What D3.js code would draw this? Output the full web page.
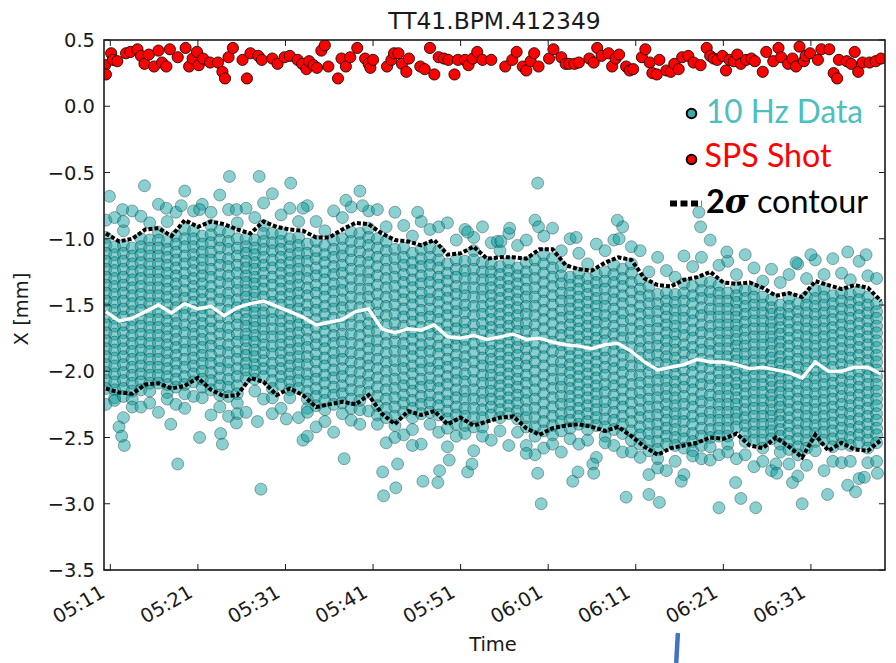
<!DOCTYPE html>
<html><head><meta charset="utf-8">
<script src="https://cdn.jsdelivr.net/npm/d3@7"></script>
<style>body{margin:0;background:#fff}svg{display:block}</style>
</head><body>
<svg id="c" width="896" height="663"></svg>
<script>
// ---------------- DATA ----------------
const chartTitle = "TT41.BPM.412349";
const xTickLabels = ["05:11","05:21","05:31","05:41","05:51","06:01","06:11","06:21","06:31"];
const yTicks = [0.5,0.0,-0.5,-1.0,-1.5,-2.0,-2.5,-3.0,-3.5];
// all times are minutes after 05:11
const spsTime = [-0.6,-0.5,0.1,0.3,0.8,1.8,2.3,3.1,3.5,3.9,4.4,5.0,5.5,5.9,6.4,6.8,7.7,8.6,9.0,9.4,9.9,10.1,10.6,11.4,12.3,12.8,13.1,13.5,14.0,15.1,15.6,16.0,16.9,17.3,18.5,19.1,19.9,20.5,
21.4,21.9,22.4,22.7,23.2,23.6,24.1,24.5,24.9,26.0,26.4,26.9,27.4,28.2,29.1,29.5,29.7,30.0,31.6,32.1,32.4,32.9,33.3,33.8,34.1,35.4,35.9,36.5,37.0,37.5,38.1,38.6,39.3,39.7,40.5,40.9,41.4,41.9,42.5,43.5,
45.1,45.9,46.4,47.1,47.5,48.0,48.4,48.9,50.1,50.6,51.5,52.0,52.4,53.0,53.5,54.7,55.2,55.6,56.1,56.9,57.3,57.7,58.1,58.9,59.3,59.7,60.7,61.1,61.6,61.9,62.4,62.7,63.5,64.0,64.4,64.9,65.3,66.0,
66.6,67.4,68.1,68.5,68.9,69.3,69.9,70.3,70.7,71.2,71.6,72.0,72.6,73.2,73.6,74.5,74.9,75.7,76.3,76.6,77.4,77.9,78.3,78.7,79.2,79.4,79.9,80.8,81.2,82.1,82.6,83.0,83.2,84.1,84.6,85.0,85.4,85.9,86.7,87.4,88.0];
const spsX = [0.31,0.24,0.40,0.35,0.34,0.40,0.41,0.43,0.38,0.32,0.39,0.30,0.42,0.33,0.30,0.43,0.37,0.44,0.30,0.36,0.41,0.31,0.36,0.33,0.33,0.26,0.21,0.37,0.44,0.35,0.21,0.40,0.38,0.35,0.36,0.32,0.37,0.38,
0.35,0.32,0.28,0.34,0.31,0.29,0.42,0.46,0.30,0.21,0.36,0.30,0.37,0.44,0.36,0.32,0.29,0.35,0.30,0.35,0.40,0.40,0.32,0.26,0.36,0.30,0.28,0.44,0.24,0.37,0.36,0.35,0.24,0.35,0.35,0.31,0.36,0.41,0.35,0.35,
0.30,0.35,0.41,0.30,0.27,0.34,0.40,0.30,0.36,0.43,0.37,0.32,0.32,0.32,0.33,0.36,0.33,0.44,0.38,0.40,0.30,0.36,0.39,0.30,0.27,0.28,0.37,0.43,0.33,0.25,0.24,0.35,0.27,0.26,0.32,0.28,0.37,0.38,
0.33,0.31,0.44,0.38,0.36,0.35,0.38,0.27,0.35,0.34,0.39,0.32,0.35,0.36,0.34,0.26,0.41,0.34,0.44,0.37,0.32,0.36,0.30,0.45,0.34,0.38,0.40,0.35,0.43,0.43,0.25,0.21,0.35,0.34,0.32,0.41,0.26,0.33,0.33,0.34,0.36];

const lineTime = [-0.5,1,2.5,4,5.5,7,8.5,10,11.5,13,14.5,16,17.5,19,20.5,22,23.5,25,26.5,28,29.5,31,32.5,34,35.5,37,38.5,40,41.5,43,44.5,46,47.5,49,50.5,52,53.5,55,56.5,58,59.5,61,62.5,64,65.5,67,68.5,70,71.5,73,74.5,76,77.5,79,80.5,82,83.5,85,86.5,88];
const meanX = [-1.55,-1.62,-1.60,-1.55,-1.50,-1.56,-1.49,-1.53,-1.51,-1.58,-1.52,-1.49,-1.47,-1.51,-1.55,-1.59,-1.65,-1.63,-1.61,-1.55,-1.53,-1.68,-1.71,-1.68,-1.69,-1.65,-1.74,-1.75,-1.73,-1.76,-1.74,-1.72,-1.76,-1.75,-1.78,-1.80,-1.81,-1.83,-1.80,-1.79,-1.85,-1.93,-1.99,-1.97,-1.95,-1.91,-1.93,-1.93,-1.95,-1.98,-1.97,-1.99,-2.01,-2.05,-1.93,-2.00,-2.00,-1.97,-1.97,-2.02];
const upperX = [-0.96,-1.02,-1.00,-0.93,-0.92,-0.98,-0.86,-0.91,-0.87,-0.89,-0.93,-0.96,-0.87,-0.91,-0.93,-0.94,-0.99,-0.99,-0.93,-0.88,-0.89,-0.96,-1.01,-1.02,-1.05,-1.01,-1.12,-1.11,-1.06,-1.15,-1.14,-1.14,-1.15,-1.08,-1.08,-1.20,-1.23,-1.24,-1.18,-1.14,-1.16,-1.30,-1.35,-1.36,-1.31,-1.29,-1.25,-1.33,-1.34,-1.33,-1.37,-1.43,-1.41,-1.44,-1.32,-1.35,-1.38,-1.35,-1.37,-1.47];
const lowerX = [-2.13,-2.16,-2.17,-2.10,-2.09,-2.13,-2.11,-2.05,-2.14,-2.19,-2.18,-2.05,-2.08,-2.18,-2.13,-2.18,-2.27,-2.25,-2.23,-2.25,-2.18,-2.32,-2.40,-2.30,-2.33,-2.30,-2.40,-2.35,-2.41,-2.38,-2.35,-2.34,-2.43,-2.48,-2.43,-2.41,-2.40,-2.42,-2.45,-2.42,-2.49,-2.57,-2.63,-2.58,-2.56,-2.54,-2.50,-2.51,-2.47,-2.56,-2.58,-2.50,-2.57,-2.65,-2.48,-2.60,-2.54,-2.59,-2.60,-2.52];

// 10 Hz bursts: one column of readings per minute
const hz10Time = [-0.5,0.5,1.5,2.5,3.5,4.5,5.5,6.5,7.5,8.5,9.5,10.5,11.5,12.5,13.5,14.5,15.5,16.5,17.5,18.5,19.5,20.5,21.5,22.5,23.5,24.5,25.5,26.5,27.5,28.5,29.5,30.5,31.5,32.5,33.5,34.5,35.5,36.5,37.5,38.5,39.5,40.5,41.5,42.5,43.5,44.5,45.5,46.5,47.5,48.5,49.5,50.5,51.5,52.5,53.5,54.5,55.5,56.5,57.5,58.5,59.5,60.5,61.5,62.5,63.5,64.5,65.5,66.5,67.5,68.5,69.5,70.5,71.5,72.5,73.5,74.5,75.5,76.5,77.5,78.5,79.5,80.5,81.5,82.5,83.5,84.5,85.5,86.5,87.5];
const hz10X = [
[-0.86,-0.99,-1.05,-1.11,-1.17,-1.23,-1.29,-1.35,-1.41,-1.47,-1.53,-1.59,-1.65,-1.71,-1.77,-1.83,-1.89,-1.95,-2.01,-2.07,-2.13,-2.25],
[-0.84,-1.06,-1.12,-1.18,-1.24,-1.30,-1.36,-1.42,-1.48,-1.54,-1.60,-1.66,-1.72,-1.78,-1.84,-1.90,-1.96,-2.02,-2.08,-2.14,-2.20,-2.22],
[-0.94,-1.05,-1.11,-1.17,-1.23,-1.29,-1.35,-1.41,-1.47,-1.53,-1.59,-1.65,-1.71,-1.77,-1.83,-1.89,-1.95,-2.01,-2.07,-2.13,-2.19,-2.35],
[-0.79,-1.07,-1.13,-1.19,-1.25,-1.31,-1.37,-1.43,-1.49,-1.55,-1.61,-1.67,-1.73,-1.79,-1.85,-1.91,-1.97,-2.03,-2.09,-2.15,-2.21,-2.27],
[-0.83,-1.00,-1.06,-1.12,-1.18,-1.24,-1.30,-1.36,-1.42,-1.48,-1.54,-1.60,-1.66,-1.72,-1.78,-1.84,-1.90,-1.96,-2.02,-2.08,-2.14,-2.27],
[-0.88,-1.01,-1.07,-1.13,-1.19,-1.25,-1.31,-1.37,-1.43,-1.49,-1.55,-1.61,-1.67,-1.73,-1.79,-1.85,-1.91,-1.97,-2.03,-2.09,-2.15,-2.24],
[-0.74,-0.95,-1.01,-1.07,-1.13,-1.19,-1.25,-1.31,-1.37,-1.43,-1.49,-1.55,-1.61,-1.67,-1.73,-1.79,-1.85,-1.91,-1.97,-2.03,-2.09,-2.31],
[-0.87,-1.02,-1.08,-1.14,-1.20,-1.26,-1.32,-1.38,-1.44,-1.50,-1.56,-1.62,-1.68,-1.74,-1.80,-1.86,-1.92,-1.98,-2.04,-2.10,-2.16,-2.21],
[-0.80,-0.98,-1.04,-1.10,-1.16,-1.22,-1.28,-1.34,-1.40,-1.46,-1.52,-1.58,-1.64,-1.70,-1.76,-1.82,-1.88,-1.94,-2.00,-2.06,-2.12,-2.25],
[-0.64,-0.93,-1.00,-1.06,-1.13,-1.19,-1.26,-1.32,-1.39,-1.45,-1.52,-1.58,-1.65,-1.71,-1.78,-1.84,-1.91,-1.97,-2.04,-2.10,-2.17,-2.28],
[-0.79,-0.94,-1.00,-1.06,-1.12,-1.18,-1.24,-1.30,-1.36,-1.42,-1.48,-1.54,-1.60,-1.66,-1.72,-1.78,-1.84,-1.90,-1.96,-2.02,-2.08,-2.19],
[-0.74,-0.98,-1.04,-1.10,-1.16,-1.22,-1.28,-1.34,-1.40,-1.46,-1.52,-1.58,-1.64,-1.70,-1.76,-1.82,-1.88,-1.94,-2.00,-2.06,-2.12,-2.20],
[-0.80,-0.90,-0.97,-1.03,-1.10,-1.16,-1.23,-1.29,-1.36,-1.42,-1.49,-1.55,-1.62,-1.68,-1.75,-1.81,-1.88,-1.94,-2.01,-2.07,-2.14,-2.33],
[-0.67,-0.94,-1.01,-1.07,-1.14,-1.20,-1.27,-1.33,-1.40,-1.46,-1.53,-1.59,-1.66,-1.72,-1.79,-1.85,-1.92,-1.98,-2.05,-2.11,-2.18,-2.27],
[-0.78,-0.95,-1.02,-1.08,-1.15,-1.21,-1.28,-1.34,-1.41,-1.47,-1.54,-1.60,-1.67,-1.73,-1.80,-1.86,-1.93,-1.99,-2.06,-2.12,-2.19,-2.34],
[-0.88,-1.00,-1.07,-1.13,-1.20,-1.26,-1.33,-1.39,-1.46,-1.52,-1.59,-1.65,-1.72,-1.78,-1.85,-1.91,-1.98,-2.04,-2.11,-2.17,-2.24,-2.32],
[-0.77,-1.00,-1.06,-1.11,-1.17,-1.22,-1.28,-1.33,-1.39,-1.44,-1.50,-1.55,-1.61,-1.66,-1.72,-1.77,-1.83,-1.88,-1.94,-1.99,-2.05,-2.31],
[-0.84,-1.01,-1.07,-1.12,-1.18,-1.23,-1.29,-1.34,-1.40,-1.45,-1.51,-1.56,-1.62,-1.67,-1.73,-1.78,-1.84,-1.89,-1.95,-2.00,-2.06,-2.15],
[-0.73,-0.90,-0.96,-1.02,-1.08,-1.14,-1.20,-1.26,-1.32,-1.38,-1.44,-1.50,-1.56,-1.62,-1.68,-1.74,-1.80,-1.86,-1.92,-1.98,-2.04,-2.21],
[-0.66,-0.96,-1.03,-1.09,-1.16,-1.22,-1.29,-1.35,-1.42,-1.48,-1.55,-1.61,-1.68,-1.74,-1.81,-1.87,-1.94,-2.00,-2.07,-2.13,-2.20,-2.32],
[-0.82,-0.96,-1.02,-1.08,-1.14,-1.20,-1.26,-1.32,-1.38,-1.44,-1.50,-1.56,-1.62,-1.68,-1.74,-1.80,-1.86,-1.92,-1.98,-2.04,-2.10,-2.28],
[-0.77,-1.00,-1.06,-1.12,-1.18,-1.24,-1.30,-1.36,-1.42,-1.48,-1.54,-1.60,-1.66,-1.72,-1.78,-1.84,-1.90,-1.96,-2.02,-2.08,-2.14,-2.20],
[-0.87,-0.99,-1.05,-1.11,-1.17,-1.23,-1.29,-1.35,-1.41,-1.47,-1.53,-1.59,-1.65,-1.71,-1.77,-1.83,-1.89,-1.95,-2.01,-2.07,-2.13,-2.35],
[-0.75,-1.04,-1.11,-1.17,-1.24,-1.30,-1.37,-1.43,-1.50,-1.56,-1.63,-1.69,-1.76,-1.82,-1.89,-1.95,-2.02,-2.08,-2.15,-2.21,-2.28,-2.31],
[-0.87,-1.02,-1.09,-1.15,-1.22,-1.28,-1.35,-1.41,-1.48,-1.54,-1.61,-1.67,-1.74,-1.80,-1.87,-1.93,-2.00,-2.06,-2.13,-2.19,-2.26,-2.42],
[-0.94,-1.05,-1.12,-1.18,-1.25,-1.31,-1.38,-1.44,-1.51,-1.57,-1.64,-1.70,-1.77,-1.83,-1.90,-1.96,-2.03,-2.09,-2.16,-2.22,-2.29,-2.38],
[-0.79,-1.01,-1.08,-1.14,-1.21,-1.27,-1.34,-1.40,-1.47,-1.53,-1.60,-1.66,-1.73,-1.79,-1.86,-1.92,-1.99,-2.05,-2.12,-2.18,-2.25,-2.46],
[-0.84,-1.00,-1.07,-1.13,-1.20,-1.26,-1.33,-1.39,-1.46,-1.52,-1.59,-1.65,-1.72,-1.78,-1.85,-1.91,-1.98,-2.04,-2.11,-2.17,-2.24,-2.32],
[-0.76,-0.95,-1.02,-1.09,-1.16,-1.23,-1.30,-1.37,-1.44,-1.51,-1.58,-1.65,-1.72,-1.79,-1.86,-1.93,-2.00,-2.07,-2.14,-2.21,-2.28,-2.37],
[-0.64,-0.96,-1.03,-1.10,-1.17,-1.24,-1.31,-1.38,-1.45,-1.52,-1.59,-1.66,-1.73,-1.80,-1.87,-1.94,-2.01,-2.08,-2.15,-2.22,-2.29,-2.40],
[-0.79,-0.92,-0.99,-1.05,-1.12,-1.18,-1.25,-1.31,-1.38,-1.44,-1.51,-1.57,-1.64,-1.70,-1.77,-1.83,-1.90,-1.96,-2.03,-2.09,-2.16,-2.30],
[-0.78,-1.00,-1.07,-1.14,-1.21,-1.28,-1.35,-1.42,-1.49,-1.56,-1.63,-1.70,-1.77,-1.84,-1.91,-1.98,-2.05,-2.12,-2.19,-2.26,-2.33,-2.40],
[-0.91,-1.02,-1.09,-1.16,-1.23,-1.30,-1.37,-1.44,-1.51,-1.58,-1.65,-1.72,-1.79,-1.86,-1.93,-2.00,-2.07,-2.14,-2.21,-2.28,-2.35,-2.54],
[-0.80,-1.08,-1.15,-1.22,-1.29,-1.36,-1.43,-1.50,-1.57,-1.64,-1.71,-1.78,-1.85,-1.92,-1.99,-2.06,-2.13,-2.20,-2.27,-2.34,-2.41,-2.50],
[-0.90,-1.07,-1.14,-1.20,-1.27,-1.33,-1.40,-1.46,-1.53,-1.59,-1.66,-1.72,-1.79,-1.85,-1.92,-1.98,-2.05,-2.11,-2.18,-2.24,-2.31,-2.48],
[-0.98,-1.11,-1.18,-1.24,-1.31,-1.37,-1.44,-1.50,-1.57,-1.63,-1.70,-1.76,-1.83,-1.89,-1.96,-2.02,-2.09,-2.15,-2.22,-2.28,-2.35,-2.44],
[-0.87,-1.08,-1.15,-1.21,-1.28,-1.34,-1.41,-1.47,-1.54,-1.60,-1.67,-1.73,-1.80,-1.86,-1.93,-1.99,-2.06,-2.12,-2.19,-2.25,-2.32,-2.55],
[-0.93,-1.07,-1.14,-1.20,-1.27,-1.33,-1.40,-1.46,-1.53,-1.59,-1.66,-1.72,-1.79,-1.85,-1.92,-1.98,-2.05,-2.11,-2.18,-2.24,-2.31,-2.40],
[-0.91,-1.09,-1.16,-1.22,-1.29,-1.35,-1.42,-1.48,-1.55,-1.61,-1.68,-1.74,-1.81,-1.87,-1.94,-2.00,-2.07,-2.13,-2.20,-2.26,-2.33,-2.46],
[-0.88,-1.19,-1.26,-1.32,-1.39,-1.45,-1.52,-1.58,-1.65,-1.71,-1.78,-1.84,-1.91,-1.97,-2.04,-2.10,-2.17,-2.23,-2.30,-2.36,-2.43,-2.57],
[-1.01,-1.16,-1.23,-1.29,-1.36,-1.42,-1.49,-1.55,-1.62,-1.68,-1.75,-1.81,-1.88,-1.94,-2.01,-2.07,-2.14,-2.20,-2.27,-2.33,-2.40,-2.49],
[-0.93,-1.17,-1.24,-1.30,-1.37,-1.43,-1.50,-1.56,-1.63,-1.69,-1.76,-1.82,-1.89,-1.95,-2.02,-2.08,-2.15,-2.21,-2.28,-2.34,-2.41,-2.47],
[-0.99,-1.09,-1.16,-1.23,-1.30,-1.37,-1.44,-1.51,-1.58,-1.65,-1.72,-1.79,-1.86,-1.93,-2.00,-2.07,-2.14,-2.21,-2.28,-2.35,-2.42,-2.60],
[-0.91,-1.18,-1.25,-1.31,-1.38,-1.44,-1.51,-1.57,-1.64,-1.70,-1.77,-1.83,-1.90,-1.96,-2.03,-2.09,-2.16,-2.22,-2.29,-2.35,-2.42,-2.49],
[-1.03,-1.19,-1.25,-1.31,-1.37,-1.43,-1.49,-1.55,-1.61,-1.67,-1.73,-1.79,-1.85,-1.91,-1.97,-2.03,-2.09,-2.15,-2.21,-2.27,-2.33,-2.52],
[-1.09,-1.21,-1.27,-1.33,-1.39,-1.45,-1.51,-1.57,-1.63,-1.69,-1.75,-1.81,-1.87,-1.93,-1.99,-2.05,-2.11,-2.17,-2.23,-2.29,-2.35,-2.45],
[-0.96,-1.18,-1.24,-1.30,-1.36,-1.42,-1.48,-1.54,-1.60,-1.66,-1.72,-1.78,-1.84,-1.90,-1.96,-2.02,-2.08,-2.14,-2.20,-2.26,-2.32,-2.56],
[-1.05,-1.22,-1.28,-1.34,-1.40,-1.46,-1.52,-1.58,-1.64,-1.70,-1.76,-1.82,-1.88,-1.94,-2.00,-2.06,-2.12,-2.18,-2.24,-2.30,-2.36,-2.46],
[-1.01,-1.18,-1.25,-1.31,-1.38,-1.44,-1.51,-1.57,-1.64,-1.70,-1.77,-1.83,-1.90,-1.96,-2.03,-2.09,-2.16,-2.22,-2.29,-2.35,-2.42,-2.56],
[-0.86,-1.16,-1.23,-1.30,-1.37,-1.44,-1.51,-1.58,-1.65,-1.72,-1.79,-1.86,-1.93,-2.00,-2.07,-2.14,-2.21,-2.28,-2.35,-2.42,-2.49,-2.63],
[-0.98,-1.12,-1.19,-1.26,-1.33,-1.40,-1.47,-1.54,-1.61,-1.68,-1.75,-1.82,-1.89,-1.96,-2.03,-2.10,-2.17,-2.24,-2.31,-2.38,-2.45,-2.58],
[-0.92,-1.15,-1.22,-1.29,-1.36,-1.43,-1.50,-1.57,-1.64,-1.71,-1.78,-1.85,-1.92,-1.99,-2.06,-2.13,-2.20,-2.27,-2.34,-2.41,-2.48,-2.55],
[-1.09,-1.21,-1.28,-1.34,-1.41,-1.47,-1.54,-1.60,-1.67,-1.73,-1.80,-1.86,-1.93,-1.99,-2.06,-2.12,-2.19,-2.25,-2.32,-2.38,-2.45,-2.61],
[-1.00,-1.29,-1.35,-1.41,-1.47,-1.53,-1.59,-1.65,-1.71,-1.77,-1.83,-1.89,-1.95,-2.01,-2.07,-2.13,-2.19,-2.25,-2.31,-2.37,-2.43,-2.51],
[-1.11,-1.26,-1.32,-1.38,-1.44,-1.50,-1.56,-1.62,-1.68,-1.74,-1.80,-1.86,-1.92,-1.98,-2.04,-2.10,-2.16,-2.22,-2.28,-2.34,-2.40,-2.55],
[-1.19,-1.30,-1.36,-1.42,-1.48,-1.54,-1.60,-1.66,-1.72,-1.78,-1.84,-1.90,-1.96,-2.02,-2.08,-2.14,-2.20,-2.26,-2.32,-2.38,-2.44,-2.52],
[-1.04,-1.27,-1.33,-1.39,-1.45,-1.51,-1.57,-1.63,-1.69,-1.75,-1.81,-1.87,-1.93,-1.99,-2.05,-2.11,-2.17,-2.23,-2.29,-2.35,-2.41,-2.65],
[-1.09,-1.25,-1.32,-1.38,-1.45,-1.51,-1.58,-1.64,-1.71,-1.77,-1.84,-1.90,-1.97,-2.03,-2.10,-2.16,-2.23,-2.29,-2.36,-2.42,-2.49,-2.54],
[-1.01,-1.20,-1.27,-1.33,-1.40,-1.46,-1.53,-1.59,-1.66,-1.72,-1.79,-1.85,-1.92,-1.98,-2.05,-2.11,-2.18,-2.24,-2.31,-2.37,-2.44,-2.56],
[-0.91,-1.23,-1.30,-1.36,-1.43,-1.49,-1.56,-1.62,-1.69,-1.75,-1.82,-1.88,-1.95,-2.01,-2.08,-2.14,-2.21,-2.27,-2.34,-2.40,-2.47,-2.61],
[-1.06,-1.19,-1.26,-1.33,-1.40,-1.47,-1.54,-1.61,-1.68,-1.75,-1.82,-1.89,-1.96,-2.03,-2.10,-2.17,-2.24,-2.31,-2.38,-2.45,-2.52,-2.61],
[-1.09,-1.31,-1.38,-1.44,-1.51,-1.57,-1.64,-1.70,-1.77,-1.83,-1.90,-1.96,-2.03,-2.09,-2.16,-2.22,-2.29,-2.35,-2.42,-2.48,-2.55,-2.65],
[-1.25,-1.36,-1.43,-1.49,-1.56,-1.62,-1.69,-1.75,-1.82,-1.88,-1.95,-2.01,-2.08,-2.14,-2.21,-2.27,-2.34,-2.40,-2.47,-2.53,-2.60,-2.78],
[-1.14,-1.42,-1.49,-1.55,-1.62,-1.68,-1.75,-1.81,-1.88,-1.94,-2.01,-2.07,-2.14,-2.20,-2.27,-2.33,-2.40,-2.46,-2.53,-2.59,-2.66,-2.73],
[-1.24,-1.41,-1.47,-1.53,-1.59,-1.65,-1.71,-1.77,-1.83,-1.89,-1.95,-2.01,-2.07,-2.13,-2.19,-2.25,-2.31,-2.37,-2.43,-2.49,-2.55,-2.75],
[-1.29,-1.42,-1.48,-1.54,-1.60,-1.66,-1.72,-1.78,-1.84,-1.90,-1.96,-2.02,-2.08,-2.14,-2.20,-2.26,-2.32,-2.38,-2.44,-2.50,-2.56,-2.68],
[-1.13,-1.34,-1.41,-1.47,-1.54,-1.60,-1.67,-1.73,-1.80,-1.86,-1.93,-1.99,-2.06,-2.12,-2.19,-2.25,-2.32,-2.38,-2.45,-2.51,-2.58,-2.78],
[-1.21,-1.36,-1.43,-1.49,-1.56,-1.62,-1.69,-1.75,-1.82,-1.88,-1.95,-2.01,-2.08,-2.14,-2.21,-2.27,-2.34,-2.40,-2.47,-2.53,-2.60,-2.64],
[-1.14,-1.32,-1.39,-1.45,-1.52,-1.58,-1.65,-1.71,-1.78,-1.84,-1.91,-1.97,-2.04,-2.10,-2.17,-2.23,-2.30,-2.36,-2.43,-2.49,-2.56,-2.66],
[-1.01,-1.33,-1.40,-1.46,-1.53,-1.59,-1.66,-1.72,-1.79,-1.85,-1.92,-1.98,-2.05,-2.11,-2.18,-2.24,-2.31,-2.37,-2.44,-2.50,-2.57,-2.67],
[-1.20,-1.35,-1.41,-1.47,-1.53,-1.59,-1.65,-1.71,-1.77,-1.83,-1.89,-1.95,-2.01,-2.07,-2.13,-2.19,-2.25,-2.31,-2.37,-2.43,-2.49,-2.63],
[-1.17,-1.41,-1.47,-1.53,-1.59,-1.65,-1.71,-1.77,-1.83,-1.89,-1.95,-2.01,-2.07,-2.13,-2.19,-2.25,-2.31,-2.37,-2.43,-2.49,-2.55,-2.61],
[-1.27,-1.37,-1.43,-1.48,-1.54,-1.59,-1.65,-1.70,-1.76,-1.81,-1.87,-1.92,-1.98,-2.03,-2.09,-2.14,-2.20,-2.25,-2.31,-2.36,-2.42,-2.66],
[-1.12,-1.39,-1.45,-1.51,-1.57,-1.63,-1.69,-1.75,-1.81,-1.87,-1.93,-1.99,-2.05,-2.11,-2.17,-2.23,-2.29,-2.35,-2.41,-2.47,-2.53,-2.63],
[-1.22,-1.38,-1.44,-1.50,-1.56,-1.62,-1.68,-1.74,-1.80,-1.86,-1.92,-1.98,-2.04,-2.10,-2.16,-2.22,-2.28,-2.34,-2.40,-2.46,-2.52,-2.72],
[-1.32,-1.44,-1.50,-1.56,-1.62,-1.68,-1.74,-1.80,-1.86,-1.92,-1.98,-2.04,-2.10,-2.16,-2.22,-2.28,-2.34,-2.40,-2.46,-2.52,-2.58,-2.68],
[-1.23,-1.46,-1.52,-1.57,-1.63,-1.68,-1.74,-1.79,-1.85,-1.90,-1.96,-2.01,-2.07,-2.12,-2.18,-2.23,-2.29,-2.34,-2.40,-2.45,-2.51,-2.75],
[-1.33,-1.50,-1.56,-1.61,-1.67,-1.72,-1.78,-1.83,-1.89,-1.94,-2.00,-2.05,-2.11,-2.16,-2.22,-2.27,-2.33,-2.38,-2.44,-2.49,-2.55,-2.61],
[-1.27,-1.45,-1.51,-1.57,-1.63,-1.69,-1.75,-1.81,-1.87,-1.93,-1.99,-2.05,-2.11,-2.17,-2.23,-2.29,-2.35,-2.41,-2.47,-2.53,-2.59,-2.70],
[-1.19,-1.49,-1.55,-1.61,-1.67,-1.73,-1.79,-1.85,-1.91,-1.97,-2.03,-2.09,-2.15,-2.21,-2.27,-2.33,-2.39,-2.45,-2.51,-2.57,-2.63,-2.79],
[-1.30,-1.44,-1.50,-1.56,-1.62,-1.68,-1.74,-1.80,-1.86,-1.92,-1.98,-2.04,-2.10,-2.16,-2.22,-2.28,-2.34,-2.40,-2.46,-2.52,-2.58,-2.71],
[-1.16,-1.39,-1.45,-1.51,-1.57,-1.63,-1.69,-1.75,-1.81,-1.87,-1.93,-1.99,-2.05,-2.11,-2.17,-2.23,-2.29,-2.35,-2.41,-2.47,-2.53,-2.60],
[-1.27,-1.38,-1.44,-1.50,-1.56,-1.62,-1.68,-1.74,-1.80,-1.86,-1.92,-1.98,-2.04,-2.10,-2.16,-2.22,-2.28,-2.34,-2.40,-2.46,-2.52,-2.75],
[-1.15,-1.43,-1.49,-1.55,-1.61,-1.67,-1.73,-1.79,-1.85,-1.91,-1.97,-2.03,-2.09,-2.15,-2.21,-2.27,-2.33,-2.39,-2.45,-2.51,-2.57,-2.68],
[-1.26,-1.41,-1.47,-1.53,-1.59,-1.65,-1.71,-1.77,-1.83,-1.89,-1.95,-2.01,-2.07,-2.13,-2.19,-2.25,-2.31,-2.37,-2.43,-2.49,-2.55,-2.69],
[-1.31,-1.42,-1.48,-1.54,-1.60,-1.66,-1.72,-1.78,-1.84,-1.90,-1.96,-2.02,-2.08,-2.14,-2.20,-2.26,-2.32,-2.38,-2.44,-2.50,-2.56,-2.68],
[-1.17,-1.40,-1.46,-1.52,-1.58,-1.64,-1.70,-1.76,-1.82,-1.88,-1.94,-2.00,-2.06,-2.12,-2.18,-2.24,-2.30,-2.36,-2.42,-2.48,-2.54,-2.81],
[-1.28,-1.44,-1.50,-1.56,-1.62,-1.68,-1.74,-1.80,-1.86,-1.92,-1.98,-2.04,-2.10,-2.16,-2.22,-2.28,-2.34,-2.40,-2.46,-2.52,-2.58,-2.69],
[-1.30,-1.49,-1.55,-1.60,-1.66,-1.71,-1.77,-1.82,-1.88,-1.93,-1.99,-2.04,-2.10,-2.15,-2.21,-2.26,-2.32,-2.37,-2.43,-2.48,-2.54,-2.68]];
// isolated 10 Hz readings away from the core
const hz10OutTime = [-0.1,1.4,1.5,3.9,6.4,8.1,10.2,13.6,14.4,17.0,20.6,22.0,26.9,28.8,35.1,40.8,44.2,44.6,45.6,48.8,48.9,53.2,57.9,58.1,67.2,67.4,84.2,70.4,78.3,80.0,86.3,
1.0,1.6,1.3,6.9,7.7,10.2,12.6,12.8,14.4,16.8,17.2,20.1,22.0,22.5,26.7,31.1,31.2,32.6,32.8,34.5,35.7,37.4,37.6,38.7,40.8,41.3,47.5,48.8,49.2,52.8,53.4,55.1,55.2,58.9,61.5,62.7,65.2,69.5,71.4,72.0,73.7,76.0,76.1,77.9,79.0,81.9,84.2,85.1,86.1,87.6];
const hz10OutX = [-0.68,-0.78,-0.87,-0.60,-0.77,-0.75,-0.78,-0.53,-0.78,-0.53,-0.58,-0.77,-0.71,-0.75,-0.80,-0.95,-1.02,-1.02,-0.92,-0.58,-0.91,-0.99,-0.86,-1.00,-0.80,-0.91,-1.10,-1.10,-1.18,-1.12,-1.12,
-2.42,-2.56,-2.49,-2.40,-2.70,-2.50,-2.47,-2.55,-2.39,-2.38,-2.89,-2.36,-2.52,-2.49,-2.66,-2.76,-2.94,-2.88,-2.70,-2.56,-2.83,-2.84,-2.75,-2.67,-2.76,-2.70,-2.62,-2.77,-3.00,-2.83,-2.76,-2.70,-2.77,-2.95,-2.93,-2.99,-2.83,-3.03,-2.84,-2.96,-3.03,-2.70,-2.77,-2.84,-3.00,-2.93,-2.86,-2.91,-2.80,-2.77];

const legendLabels = ["10 Hz Data","SPS Shot","contour"];

// ---------------- CHART ----------------
const svg = d3.select("#c");
const M = {left:104, right:885, top:40, bottom:570};
const base = new Date(2017,0,1,5,11,0);
const tm = m => new Date(base.getTime() + m*60000);
const parseHM = d3.timeParse("%H:%M");
const tickDates = xTickLabels.map(s => { const p = parseHM(s); return new Date(2017,0,1,p.getHours(),p.getMinutes()); });

const x = d3.scaleTime().domain([tm(-0.72), tm(88.46)]).range([M.left, M.right]);
const y = d3.scaleLinear().domain([-3.5, 0.5]).range([M.bottom, M.top]);

svg.append("defs").append("clipPath").attr("id","clip")
  .append("rect").attr("x",M.left).attr("y",M.top).attr("width",M.right-M.left).attr("height",M.bottom-M.top);

const plot = svg.append("g").attr("clip-path","url(#clip)");

// 10 Hz points
const hzPts = [];
hz10Time.forEach((t,i) => hz10X[i].forEach(v => hzPts.push([t,v])));
hz10OutTime.forEach((t,i) => hzPts.push([t, hz10OutX[i]]));
plot.append("g").selectAll("circle").data(hzPts).join("circle")
  .attr("cx", d => x(tm(d[0]))).attr("cy", d => y(d[1])).attr("r", 6)
  .attr("fill", "#009898").attr("fill-opacity", 0.46)
  .attr("stroke", "#002020").attr("stroke-opacity", 0.4).attr("stroke-width", 0.9);

// mean line
const line = (arr) => d3.line().x((d,i) => x(tm(lineTime[i]))).y(d => y(d))(arr);
plot.append("path").attr("d", line(meanX)).attr("fill","none").attr("stroke","#fff").attr("stroke-width",3.4);
// 2 sigma contours
[upperX, lowerX].forEach(arr => {
  plot.append("path").attr("d", line(arr)).attr("fill","none").attr("stroke","#000")
    .attr("stroke-width",4).attr("stroke-dasharray","4 2");
});

// SPS shots
plot.append("g").selectAll("circle").data(spsTime.map((t,i)=>[t,spsX[i]])).join("circle")
  .attr("cx", d => x(tm(d[0]))).attr("cy", d => y(d[1])).attr("r", 5.6)
  .attr("fill", "#ff0000").attr("stroke", "#000").attr("stroke-width", 0.8);

// frame
svg.append("rect").attr("x",M.left).attr("y",M.top).attr("width",M.right-M.left).attr("height",M.bottom-M.top)
  .attr("fill","none").attr("stroke","#1a1a1a").attr("stroke-width",1.6);

// ticks (inward, all four sides)
const tk = svg.append("g").attr("stroke","#1a1a1a").attr("stroke-width",1);
tickDates.forEach(d => {
  const px = x(d);
  tk.append("line").attr("x1",px).attr("x2",px).attr("y1",M.bottom).attr("y2",M.bottom-6);
  tk.append("line").attr("x1",px).attr("x2",px).attr("y1",M.top).attr("y2",M.top+6);
});
yTicks.forEach(v => {
  const py = y(v);
  tk.append("line").attr("x1",M.left).attr("x2",M.left+6).attr("y1",py).attr("y2",py);
  tk.append("line").attr("x1",M.right).attr("x2",M.right-6).attr("y1",py).attr("y2",py);
});

const FONT = "'DejaVu Sans', sans-serif";
const fmt = d3.format(".1f");
svg.append("g").selectAll("text").data(yTicks).join("text")
  .attr("x", 95).attr("y", d => y(d)).attr("dy","0.36em")
  .attr("text-anchor","end").attr("font-family",FONT).attr("font-size",19.5).attr("fill","#1a1a1a")
  .text(d => fmt(d));

svg.append("g").selectAll("text").data(tickDates).join("text")
  .attr("transform", (d,i) => `translate(${x(d)-4},${596}) rotate(-30)`)
  .attr("text-anchor","end").attr("font-family",FONT).attr("font-size",19.5).attr("fill","#1a1a1a")
  .text((d,i) => xTickLabels[i]);

svg.append("text").attr("x",(M.left+M.right)/2).attr("y",29).attr("text-anchor","middle")
  .attr("font-family",FONT).attr("font-size",23.4).attr("fill","#1a1a1a").text(chartTitle);
svg.append("text").attr("x",493).attr("y",651).attr("text-anchor","middle")
  .attr("font-family",FONT).attr("font-size",19.5).attr("fill","#1a1a1a").text("Time");
svg.append("text").attr("transform","translate(28,309) rotate(-90)").attr("text-anchor","middle")
  .attr("font-family",FONT).attr("font-size",19.5).attr("fill","#1a1a1a").text("X [mm]");

// legend
const LF = "Lato, 'Open Sans', sans-serif";
const lg = svg.append("g");
lg.append("circle").attr("cx",691.5).attr("cy",113.5).attr("r",4.8).attr("fill","#3fa9a9").attr("stroke","#000").attr("stroke-width",2);
lg.append("text").attr("x",706).attr("y",123).attr("font-family",LF).attr("font-size",33).attr("fill","#4dbfbf")
  .attr("textLength",157).attr("lengthAdjust","spacingAndGlyphs").text(legendLabels[0]);
lg.append("circle").attr("cx",691.5).attr("cy",159.5).attr("r",4.8).attr("fill","#ff0000").attr("stroke","#000").attr("stroke-width",2);
lg.append("text").attr("x",704.5).attr("y",167).attr("font-family",LF).attr("font-size",33).attr("fill","#ff0000")
  .attr("textLength",127).attr("lengthAdjust","spacingAndGlyphs").text(legendLabels[1]);
lg.append("line").attr("x1",670).attr("x2",702).attr("y1",203.5).attr("y2",203.5)
  .attr("stroke","#000").attr("stroke-width",6).attr("stroke-dasharray","7 3.5");
const t3 = lg.append("text").attr("x",706).attr("y",213).attr("font-family",LF).attr("font-size",33).attr("fill","#000")
  .attr("textLength",162).attr("lengthAdjust","spacingAndGlyphs");
t3.append("tspan").attr("font-weight","bold").text("2");
t3.append("tspan").attr("font-weight","bold").attr("font-style","italic").attr("font-family","'DejaVu Serif', serif").text("σ");
t3.append("tspan").text(" " + legendLabels[2]);

// blue cursor mark at the bottom
svg.append("line").attr("x1",676.2).attr("y1",663).attr("x2",677.9).attr("y2",633)
  .attr("stroke","#4472c4").attr("stroke-width",4.5);
</script>
</body></html>
